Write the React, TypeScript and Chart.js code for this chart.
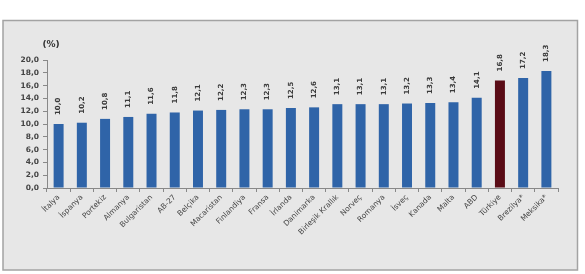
import React, { useEffect, useRef } from "react";
import { Chart, registerables } from "chart.js";

Chart.register(...registerables);

const categories = [
  "İtalya", "İspanya", "Portekiz", "Almanya", "Bulgaristan", "AB-27", "Belçika",
  "Macaristan", "Finlandiya", "Fransa", "İrlanda", "Danimarka", "Birleşik Krallık",
  "Norveç", "Romanya", "İsveç", "Kanada", "Malta", "ABD", "Türkiye", "Brezilya*", "Meksika*",
];
const values = [
  10.0, 10.2, 10.8, 11.1, 11.6, 11.8, 12.1, 12.2, 12.3, 12.3, 12.5, 12.6, 13.1,
  13.1, 13.1, 13.2, 13.3, 13.4, 14.1, 16.8, 17.2, 18.3,
];
const highlighted = "Türkiye";
const yTicks = [0, 2, 4, 6, 8, 10, 12, 14, 16, 18, 20];
const unitLabel = "(%)";

const BLUE = "#2f64a8";
const MAROON = "#5a0c16";
const FONT = "DejaVu Sans";

const fmt = (v: number) => v.toFixed(1).replace(".", ",");

const framePlugin = {
  id: "frame",
  beforeDraw(chart: any) {
    const ctx = chart.ctx;
    ctx.save();
    ctx.fillStyle = "#ffffff";
    ctx.fillRect(0, 0, chart.width, chart.height);
    ctx.fillStyle = "#e7e7e7";
    ctx.fillRect(3, 20, 575, 250);
    ctx.strokeStyle = "#a3a3a3";
    ctx.lineWidth = 1.5;
    ctx.strokeRect(3, 20.5, 574.5, 249.5);
    ctx.fillStyle = "#333";
    ctx.font = `bold 9px ${FONT}`;
    ctx.textAlign = "center";
    ctx.textBaseline = "middle";
    ctx.fillText(unitLabel, 51, 45);
    ctx.restore();
  },
};

const labelPlugin = {
  id: "barLabels",
  afterDatasetsDraw(chart: any) {
    const ctx = chart.ctx;
    const meta = chart.getDatasetMeta(0);
    ctx.save();
    ctx.fillStyle = "#3a3a3a";
    ctx.font = `bold 7px ${FONT}`;
    ctx.textAlign = "left";
    ctx.textBaseline = "middle";
    meta.data.forEach((el: any, i: number) => {
      ctx.save();
      ctx.translate(el.x, el.y - 9);
      ctx.rotate(-Math.PI / 2);
      ctx.fillText(fmt(values[i]), 0, 0);
      ctx.restore();
    });
    ctx.restore();
  },
};

export default function App() {
  const ref = useRef<HTMLCanvasElement>(null);
  useEffect(() => {
    document.body.style.margin = "0";
    const chart = new Chart(ref.current!, {
      type: "bar",
      data: {
        labels: categories,
        datasets: [
          {
            data: values,
            backgroundColor: categories.map((c) => (c === highlighted ? MAROON : BLUE)),
            categoryPercentage: 1,
            barPercentage: 0.43,
          },
        ],
      },
      options: {
        animation: false,
        responsive: false,
        devicePixelRatio: 1,
        layout: { padding: { left: 0, top: 60, right: 27, bottom: 0 } },
        plugins: { legend: { display: false }, tooltip: { enabled: false } },
        scales: {
          x: {
            grid: { display: true, drawOnChartArea: false, offset: true, tickLength: 4, color: "#888" },
            border: { display: true, color: "#888" },
            ticks: {
              minRotation: 45,
              maxRotation: 45,
              autoSkip: false,
              padding: 1,
              color: "#444",
              font: { family: FONT, size: 7.5 },
            },
            afterFit(scale: any) {
              scale.height = 86;
            },
          },
          y: {
            min: 0,
            max: 20,
            afterBuildTicks(scale: any) {
              scale.ticks = yTicks.map((v) => ({ value: v }));
            },
            grid: { display: true, drawOnChartArea: false, tickLength: 4, color: "#888" },
            border: { display: true, color: "#888" },
            ticks: {
              padding: 4,
              color: "#444",
              font: { family: FONT, size: 7.5, weight: "bold" },
              callback: (v: any) => fmt(Number(v)),
            },
            afterFit(scale: any) {
              scale.width = 47;
            },
          },
        },
      },
      plugins: [framePlugin, labelPlugin],
    });
    return () => chart.destroy();
  }, []);
  return (
    <div style={{ position: "relative", width: 585, height: 274 }}>
      <canvas ref={ref} width={585} height={274} style={{ display: "block" }} />
    </div>
  );
}
